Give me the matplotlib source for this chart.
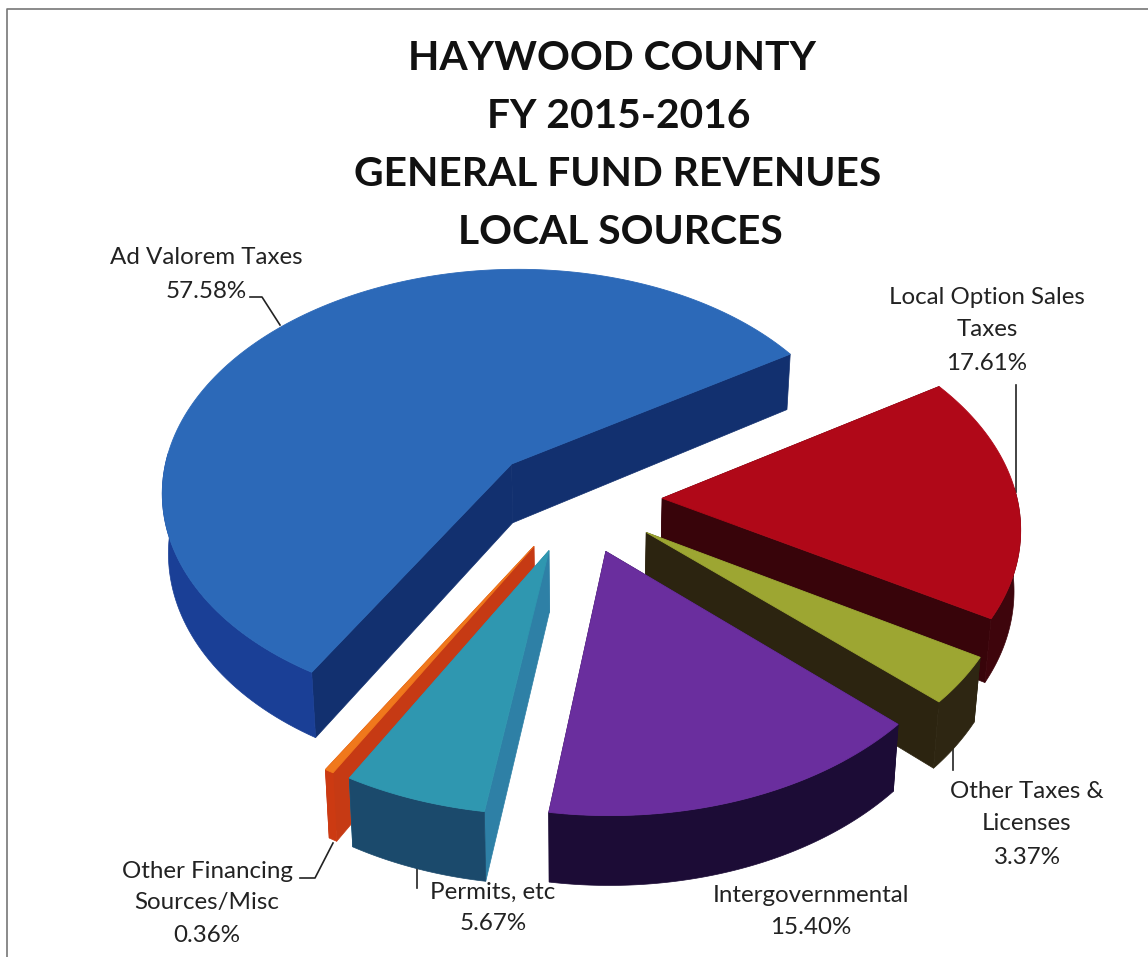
#!/usr/bin/env python3
# -*- coding: utf-8 -*-
import numpy as np
import matplotlib
matplotlib.use('Agg')
import matplotlib.pyplot as plt
from matplotlib.patches import Polygon

plt.rcParams['font.family'] = ['Lato', 'DejaVu Sans']

#%% Data
title_lines = ['HAYWOOD COUNTY', 'FY 2015-2016', 'GENERAL FUND REVENUES', 'LOCAL SOURCES']
categories = ['Ad Valorem Taxes', 'Local Option Sales Taxes', 'Other Taxes & Licenses',
              'Intergovernmental', 'Permits, etc', 'Other Financing Sources/Misc']
values = [57.58, 17.61, 3.37, 15.40, 5.67, 0.36]
value_labels = ['57.58%', '17.61%', '3.37%', '15.40%', '5.67%', '0.36%']

top_colors = ['#2C69B8', '#B00818', '#9DA632', '#6A2E9E', '#2F97B0', '#F0781C']
rim_colors = ['#1A3F96', '#3E050C', '#2E2612', '#1C0C36', '#1B4A6C', '#CC3A12']
cut_colors = ['#12306F', '#38040A', '#2C2410', '#1C0C36', '#2E80A6', '#C63A14']

# labels: text lines, centre x, y of each line
label_lines = [['Ad Valorem Taxes', '57.58%'], ['Local Option Sales', 'Taxes', '17.61%'],
               ['Other Taxes &', 'Licenses', '3.37%'], ['Intergovernmental', '15.40%'],
               ['Permits, etc', '5.67%'], ['Other Financing', 'Sources/Misc', '0.36%']]
label_x = [206, 987, 1027, 811, 493, 207]
label_y = [[258, 291], [298, 330, 363], [792, 824, 858], [896, 928], [892, 924], [871, 903, 936]]
leaders = [[(250, 297), (262, 297), (280, 325)], [(1016, 385), (1016, 492)],
           [(953, 742), (953, 770)], [(417, 868), (417, 888)],
           [(300, 878), (315, 878), (333, 843)]]

#%% Pie geometry (fitted by eye to the picture)
cx, cy = 577, 499
ax_scale, ay_scale = 355, 221
persp = 0.115
explode = 0.24
height = 60
bottom_shrink = 0.985
start_angle = 32.5   # start of Local Option, slices run counterclockwise from Ad Valorem
radius_x = [0.994, 1, 1, 1, 1, 1]
radius_y = [1.02, 1, 1, 1, 1, 1]
nudge_x = [-5, 0, 0, 0, 0, 0]
nudge_y = [1, 0, 1, 1, 0, 0]


def project(X, Y, bottom=False):
    s = 1 / (1 + persp * Y)
    sx = cx + ax_scale * X * s
    sy = cy - ay_scale * Y * s
    if bottom:
        sx = cx + (sx - cx) * bottom_shrink
        sy = sy + height * s
    return np.column_stack([sx, sy])


fig = plt.figure(figsize=(11.48, 9.57), dpi=100)
ax = fig.add_axes([0, 0, 1, 1])
ax.set_xlim(0, 1148)
ax.set_ylim(957, 0)
ax.axis('off')

# frame of the scanned page
ax.plot([7, 7, 1148], [957, 9, 9], color='#777777', lw=1.2)

# angle ranges of each slice, Ad Valorem goes counterclockwise from start_angle,
# the rest clockwise from start_angle in data order
spans = np.array(values) / sum(values) * 360
angles = {}
angles[0] = (start_angle, start_angle + spans[0])
a = start_angle
for i in range(1, len(values)):
    angles[i] = (a - spans[i], a)
    a -= spans[i]

# back to front
for n, i in enumerate([0, 1, 2, 5, 4, 3]):
    a0, a1 = angles[i]
    mid = np.radians((a0 + a1) / 2)
    ox, oy = explode * np.cos(mid), explode * np.sin(mid)
    th = np.radians(np.linspace(a0, a1, 160))
    X = ox + radius_x[i] * np.cos(th)
    Y = oy + radius_y[i] * np.sin(th)
    shift = np.array([nudge_x[i], nudge_y[i]])
    rim_top = project(X, Y) + shift
    rim_bot = project(X, Y, bottom=True) + shift
    apex_top = project(np.array([ox]), np.array([oy])) + shift
    apex_bot = project(np.array([ox]), np.array([oy]), bottom=True) + shift
    # cut faces
    ax.add_patch(Polygon(np.vstack([apex_top, rim_top[:1], rim_bot[:1], apex_bot]), fc=cut_colors[i], ec=cut_colors[i], lw=0.5, zorder=2 + n))
    ax.add_patch(Polygon(np.vstack([apex_top, rim_top[-1:], rim_bot[-1:], apex_bot]), fc=cut_colors[i], ec=cut_colors[i], lw=0.5, zorder=2 + n))
    # rim, only the part that faces the viewer
    front = np.sin(th) < 0.05
    ax.add_patch(Polygon(np.vstack([rim_top[front], rim_bot[front][::-1]]), fc=rim_colors[i], ec=rim_colors[i], lw=0.5, zorder=2 + n))
    # top
    ax.add_patch(Polygon(np.vstack([apex_top, rim_top]), fc=top_colors[i], ec=top_colors[i], lw=0.6, zorder=2 + n))

#%% Text
title_y = [59, 117, 174, 232]
title_x = [612, 619, 618, 620]
for t, x, y in zip(title_lines, title_x, title_y):
    ax.text(x, y, t, ha='center', va='center', fontsize=29.3, fontweight='bold', color='#111111', zorder=20)

for lines, x, ys in zip(label_lines, label_x, label_y):
    for t, y in zip(lines, ys):
        ax.text(x, y, t, ha='center', va='center', fontsize=17.4, color='#222222', zorder=20)

for pts in leaders:
    ax.plot([p[0] for p in pts], [p[1] for p in pts], color='#222222', lw=1.2, zorder=1)

fig.savefig('out.png', dpi=100, facecolor='white')
